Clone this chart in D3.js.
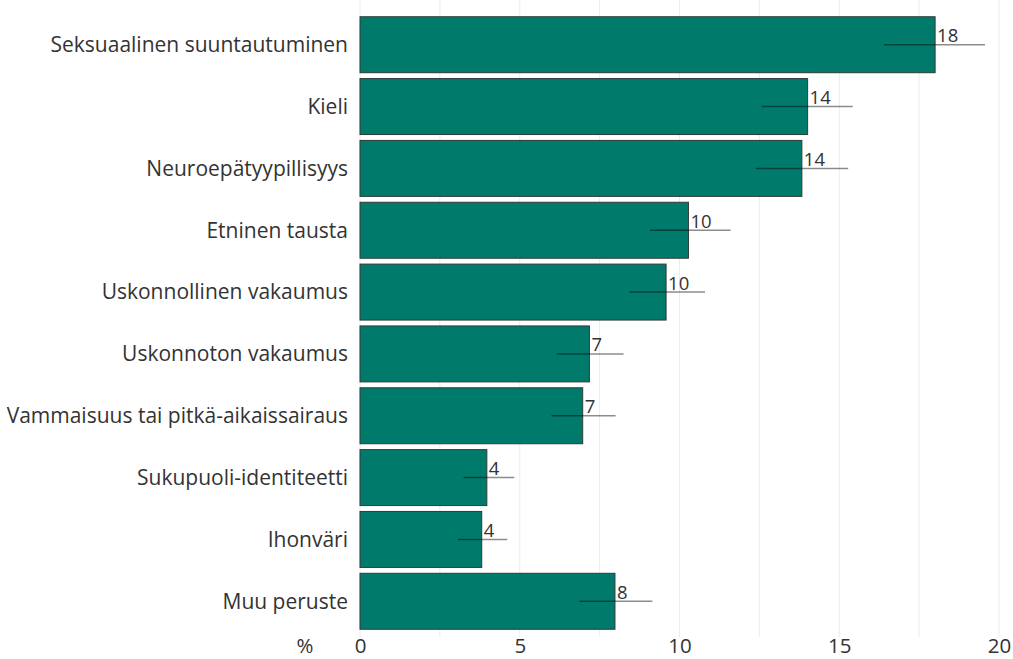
<!DOCTYPE html>
<html lang="fi">
<head>
<meta charset="utf-8">
<script src="https://cdn.jsdelivr.net/npm/d3@7"></script>
<style>
  html, body { margin: 0; padding: 0; background: #fff; }
  svg text { font-family: "Open Sans", "Noto Sans", sans-serif; fill: #333; }
</style>
</head>
<body>
<svg id="chart" width="1013" height="659"></svg>
<script>
// Syrjintäperusteet, osuus vastaajista (%), sekä luottamusvälit
const categories = [
  "Seksuaalinen suuntautuminen",
  "Kieli",
  "Neuroepätyypillisyys",
  "Etninen tausta",
  "Uskonnollinen vakaumus",
  "Uskonnoton vakaumus",
  "Vammaisuus tai pitkä-aikaissairaus",
  "Sukupuoli-identiteetti",
  "Ihonväri",
  "Muu peruste"
];
const values = [18.0, 14.01, 13.83, 10.28, 9.58, 7.18, 6.97, 3.97, 3.81, 7.98];
const ciLow  = [16.40, 12.57, 12.39, 9.08, 8.43, 6.16, 5.99, 3.24, 3.06, 6.87];
const ciHigh = [19.56, 15.42, 15.28, 11.60, 10.80, 8.25, 8.00, 4.83, 4.61, 9.15];
const xTicks = [0, 5, 10, 15, 20];
const xGrid = [0, 2.5, 5, 7.5, 10, 12.5, 15, 17.5, 20];
const axisUnit = "%";

const svg = d3.select("#chart");

const x = d3.scaleLinear().domain([0, 20]).range([360, 999]);
const y = d3.scaleBand()
  .domain(categories)
  .range([13.8, 632.2])
  .paddingInner(0.095)
  .paddingOuter(0.0475);

// Pystysuorat apuviivat
svg.append("g")
  .selectAll("line")
  .data(xGrid)
  .join("line")
  .attr("x1", d => x(d)).attr("x2", d => x(d))
  .attr("y1", 0).attr("y2", 637)
  .attr("stroke", "#ececec")
  .attr("stroke-width", 1);

// Palkit
svg.append("g")
  .selectAll("rect")
  .data(categories)
  .join("rect")
  .attr("x", x(0))
  .attr("y", d => y(d))
  .attr("width", (d, i) => x(values[i]) - x(0))
  .attr("height", y.bandwidth())
  .attr("fill", "#007b6b")
  .attr("stroke", "#2f3b38")
  .attr("stroke-width", 1);

// Luottamusvälit
svg.append("g")
  .selectAll("line")
  .data(categories)
  .join("line")
  .attr("x1", (d, i) => x(ciLow[i]))
  .attr("x2", (d, i) => x(ciHigh[i]))
  .attr("y1", d => y(d) + y.bandwidth() / 2)
  .attr("y2", d => y(d) + y.bandwidth() / 2)
  .attr("stroke", "rgba(0,0,0,0.45)")
  .attr("stroke-width", 1.5);

// Arvotunnisteet
svg.append("g")
  .selectAll("text")
  .data(categories)
  .join("text")
  .attr("x", (d, i) => x(values[i]) + 2)
  .attr("y", d => y(d) + y.bandwidth() / 2 - 2.5)
  .attr("font-size", 18.5)
  .text((d, i) => d3.format(".0f")(values[i]));

// Luokka-akseli
const yAxis = svg.append("g")
  .attr("transform", `translate(${x(0) - 12},0)`)
  .call(d3.axisLeft(y).tickSize(0).tickPadding(0));
yAxis.select(".domain").remove();
yAxis.selectAll("text")
  .attr("font-size", 21)
  .attr("dy", "0.35em");

// Arvoakseli
const xAxis = svg.append("g")
  .attr("transform", "translate(0,653)")
  .call(d3.axisBottom(x).tickValues(xTicks).tickSize(0).tickPadding(0));
xAxis.select(".domain").remove();
xAxis.selectAll("text")
  .attr("font-size", 20.5)
  .attr("dy", 0)
  .attr("y", 0);

svg.append("text")
  .attr("x", 305)
  .attr("y", 653)
  .attr("text-anchor", "middle")
  .attr("font-size", 20.5)
  .text(axisUnit);
</script>
</body>
</html>
